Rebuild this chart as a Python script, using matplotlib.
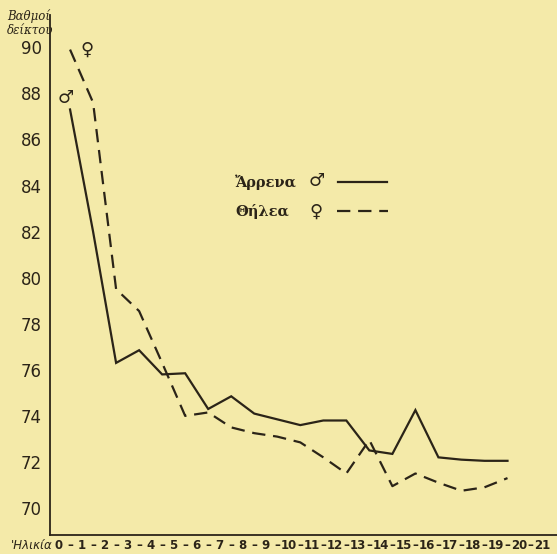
import matplotlib.pyplot as plt

# ages (middle of each one-year interval) and index values
ages = [0.5, 1.5, 2.5, 3.5, 4.5, 5.5, 6.5, 7.5, 8.5, 9.5,
        10.5, 11.5, 12.5, 13.5, 14.5, 15.5, 16.5, 17.5, 18.5, 19.5]
male = [87.3, 82.0, 76.3, 76.85, 75.8, 75.85, 74.3, 74.85, 74.1, 73.85,
        73.6, 73.8, 73.8, 72.5, 72.35, 74.25, 72.2, 72.1, 72.05, 72.05]
female = [89.9, 87.6, 79.5, 78.55, 76.3, 74.0, 74.15, 73.5, 73.25, 73.1,
          72.85, 72.2, 71.5, 72.95, 70.95, 71.5, 71.1, 70.75, 70.9, 71.3]

yticks = list(range(70, 91, 2))
xticks = list(range(0, 22))

bg = '#f4eaa9'
ink = '#2b2418'

fig = plt.figure(figsize=(5.57, 5.54), dpi=100, facecolor=bg)
ax = fig.add_axes([0.0898, 0.0343, 0.9102, 0.9386], facecolor=bg)

ax.plot(ages, male, color=ink, lw=1.6, solid_joinstyle='miter')
ax.plot(ages, female, color=ink, lw=1.6, dashes=(6, 3.5))

ax.set_xlim(-0.37, 21.65)
ax.set_ylim(68.83, 91.4)

ax.spines['top'].set_visible(False)
ax.spines['right'].set_visible(False)
for s in ('left', 'bottom'):
    ax.spines[s].set_color(ink)
    ax.spines[s].set_linewidth(1.3)

ax.set_yticks(yticks)
ax.set_yticklabels([str(v) for v in yticks])
ax.tick_params(axis='y', length=0, pad=6, labelsize=12, labelcolor=ink)

ax.set_xticks(xticks)
ax.set_xticklabels([str(v) for v in xticks], fontweight='bold')
ax.set_xticks([v + 0.5 for v in xticks[:-1]], minor=True)
ax.set_xticklabels(['–'] * (len(xticks) - 1), minor=True, fontweight='bold')
ax.tick_params(axis='x', which='both', length=0, pad=3, labelsize=8.5,
               labelcolor=ink)

# axis titles
fig.text(0.012, 0.970, 'Βαθμοί', fontsize=8.5, style='italic', color=ink,
         family='DejaVu Serif', va='center')
fig.text(0.012, 0.944, 'δείκτου', fontsize=8.5, style='italic', color=ink,
         family='DejaVu Serif', va='center')
fig.text(0.02, 0.016, "'Ηλικία", fontsize=8.5, style='italic', color=ink,
         va='center')

# gender marks at the start of the curves
ax.annotate('♂', xy=(0.5, male[0]), xytext=(-3, 8), textcoords='offset points',
            ha='center', va='center', fontsize=13, color=ink)
ax.annotate('♀', xy=(0.5, female[0]), xytext=(12, 0), textcoords='offset points',
            ha='center', va='center', fontsize=13, color=ink)

# legend drawn by hand
fig.text(0.422, 0.671, 'Ἄρρενα', fontsize=10.5, fontweight='bold', color=ink,
         family='DejaVu Serif', va='center')
fig.text(0.422, 0.619, 'Θήλεα', fontsize=10.5, fontweight='bold', color=ink,
         family='DejaVu Serif', va='center')
fig.text(0.569, 0.673, '♂', fontsize=13, color=ink, ha='center', va='center')
fig.text(0.567, 0.617, '♀', fontsize=13, color=ink, ha='center', va='center')
fig.add_artist(plt.Line2D([0.607, 0.695], [0.672, 0.672], color=ink, lw=1.6))
fig.add_artist(plt.Line2D([0.605, 0.697], [0.619, 0.619], color=ink, lw=1.6,
                          dashes=(6, 3.5)))

fig.savefig('out.png', dpi=100, facecolor=bg)
